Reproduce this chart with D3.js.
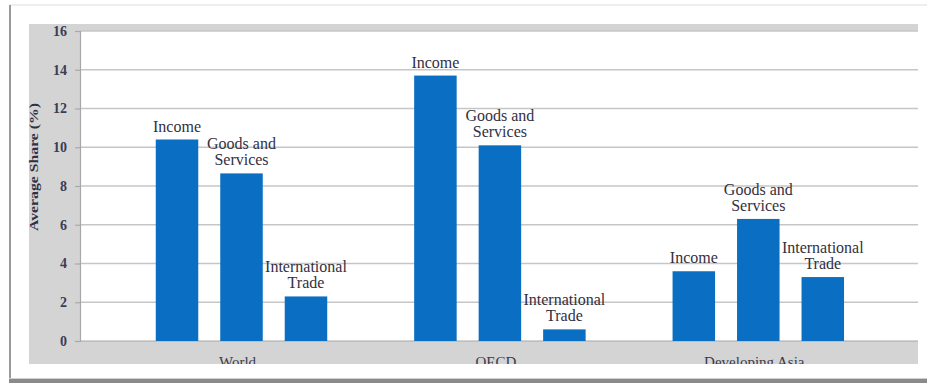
<!DOCTYPE html>
<html>
<head>
<meta charset="utf-8">
<script src="https://cdn.jsdelivr.net/npm/d3@7"></script>
<style>
  html, body { margin: 0; padding: 0; background: #fff; }
  svg { display: block; }
</style>
</head>
<body>
<svg id="chart"></svg>
<script>
// data
const regions = ["World", "OECD", "Developing Asia"];
const components = ["Income", "Goods and Services", "International Trade"];
const componentLabels = [["Income"], ["Goods and", "Services"], ["International", "Trade"]];
const income = [10.4, 13.7, 3.6];
const goodsServices = [8.65, 10.1, 6.3];
const intlTrade = [2.3, 0.6, 3.3];
const yTicks = [0, 2, 4, 6, 8, 10, 12, 14, 16];

const seriesValues = [income, goodsServices, intlTrade];

const rows = [];
regions.forEach((r, i) => {
    components.forEach((c, j) => {
        rows.push({ region: r, comp: c, idx: j, value: seriesValues[j][i] });
    });
});

var width = 927,
    height = 384;

var svg = d3.select("#chart")
    .attr("width", width)
    .attr("height", height);

// page frame / drop shadow
svg.append("rect").attr("x", 0).attr("y", 0).attr("width", width).attr("height", height).attr("fill", "#fff");
svg.append("rect").attr("x", 10).attr("y", 4).attr("width", width - 10).attr("height", 2).attr("fill", "#eeeeee");
svg.append("rect").attr("x", 9).attr("y", 5).attr("width", 2).attr("height", 377).attr("fill", "#9a9a9a");
svg.append("rect").attr("x", 9).attr("y", 379).attr("width", width - 9).attr("height", 4).attr("fill", "#8a8a8a");
svg.append("rect").attr("x", 9).attr("y", 378).attr("width", width - 9).attr("height", 1).attr("fill", "#cfcfcf");

// gray chart background
var bg = { x: 29, y: 24, w: 889, h: 340 };
svg.append("rect")
    .attr("x", bg.x).attr("y", bg.y)
    .attr("width", bg.w).attr("height", bg.h)
    .attr("fill", "#d4d4d4");

svg.append("clipPath").attr("id", "bgclip")
    .append("rect")
    .attr("x", bg.x).attr("y", bg.y)
    .attr("width", bg.w).attr("height", bg.h);

var plot = { left: 80, right: 918, top: 31, bottom: 341 };

svg.append("rect")
    .attr("x", plot.left).attr("y", plot.top)
    .attr("width", plot.right - plot.left).attr("height", plot.bottom - plot.top)
    .attr("fill", "#fff");

var yScale = d3.scaleLinear().domain([0, 16]).range([plot.bottom, plot.top]);

var xScale = d3.scaleBand().domain(regions).range([112.3, 887.5]).padding(0);

var xInner = d3.scaleBand().domain(components)
    .range([0, xScale.bandwidth()])
    .paddingInner(0.341)
    .paddingOuter(0.674);

// gridlines
svg.append("g")
    .selectAll("line")
    .data(yTicks.filter(d => d > 0))
    .join("line")
    .attr("x1", plot.left).attr("x2", plot.right)
    .attr("y1", d => yScale(d)).attr("y2", d => yScale(d))
    .attr("stroke", "#c6c6c6")
    .attr("stroke-width", 1.5);

// y axis
var yAxis = svg.append("g")
    .attr("transform", "translate(" + plot.left + ",0)")
    .call(d3.axisLeft(yScale).tickValues(yTicks).tickSize(5).tickPadding(8).tickFormat(d3.format("d")));

yAxis.select(".domain").attr("stroke", "#a8a8a8").attr("stroke-width", 1.2);
yAxis.selectAll(".tick line").attr("stroke", "#a8a8a8").attr("stroke-width", 1.2);
yAxis.selectAll(".tick text")
    .attr("fill", "#3b3d55")
    .style("font-family", "'Liberation Serif', serif")
    .style("font-weight", "bold")
    .style("font-size", "14px");

// baseline
svg.append("line")
    .attr("x1", plot.left).attr("x2", plot.right)
    .attr("y1", yScale(0)).attr("y2", yScale(0))
    .attr("stroke", "#a8a8a8").attr("stroke-width", 1.2);

// y title
svg.append("text")
    .attr("transform", "translate(38," + 167 + ") rotate(-90)")
    .attr("text-anchor", "middle")
    .attr("fill", "#2f3045")
    .attr("textLength", 128)
    .attr("lengthAdjust", "spacingAndGlyphs")
    .style("font-family", "'Liberation Serif', serif")
    .style("font-weight", "bold")
    .style("font-size", "12px")
    .text("Average Share (%)");

// bars
var groups = svg.append("g")
    .selectAll("g")
    .data(regions)
    .join("g")
    .attr("transform", d => "translate(" + xScale(d) + ",0)");

groups.selectAll("rect")
    .data(r => rows.filter(d => d.region === r))
    .join("rect")
    .attr("x", d => xInner(d.comp))
    .attr("y", d => yScale(d.value))
    .attr("width", xInner.bandwidth())
    .attr("height", d => yScale(0) - yScale(d.value))
    .attr("fill", "#0a6fc2");

// labels above bars
var labels = groups.selectAll("text")
    .data(r => rows.filter(d => d.region === r))
    .join("text")
    .attr("text-anchor", "middle")
    .attr("fill", "#33303f")
    .style("font-family", "'Liberation Serif', serif")
    .style("font-size", "16px")
    .attr("x", d => xInner(d.comp) + xInner.bandwidth() / 2)
    .attr("y", d => yScale(d.value) - 8 - (componentLabels[d.idx].length - 1) * 16);

labels.selectAll("tspan")
    .data(d => componentLabels[d.idx].map(t => ({ t: t, x: xInner(d.comp) + xInner.bandwidth() / 2 })))
    .join("tspan")
    .attr("x", d => d.x)
    .attr("dy", (d, i) => i === 0 ? 0 : 16)
    .text(d => d.t);

// category labels, cut off by the gray box like in the source
svg.append("g")
    .attr("clip-path", "url(#bgclip)")
    .selectAll("text")
    .data(regions)
    .join("text")
    .attr("x", d => xScale(d) + xScale.bandwidth() / 2 - 4)
    .attr("y", 367)
    .attr("text-anchor", "middle")
    .attr("fill", "#3a3a4a")
    .style("font-family", "'Liberation Serif', serif")
    .style("font-size", "15px")
    .text(d => d);
</script>
</body>
</html>
